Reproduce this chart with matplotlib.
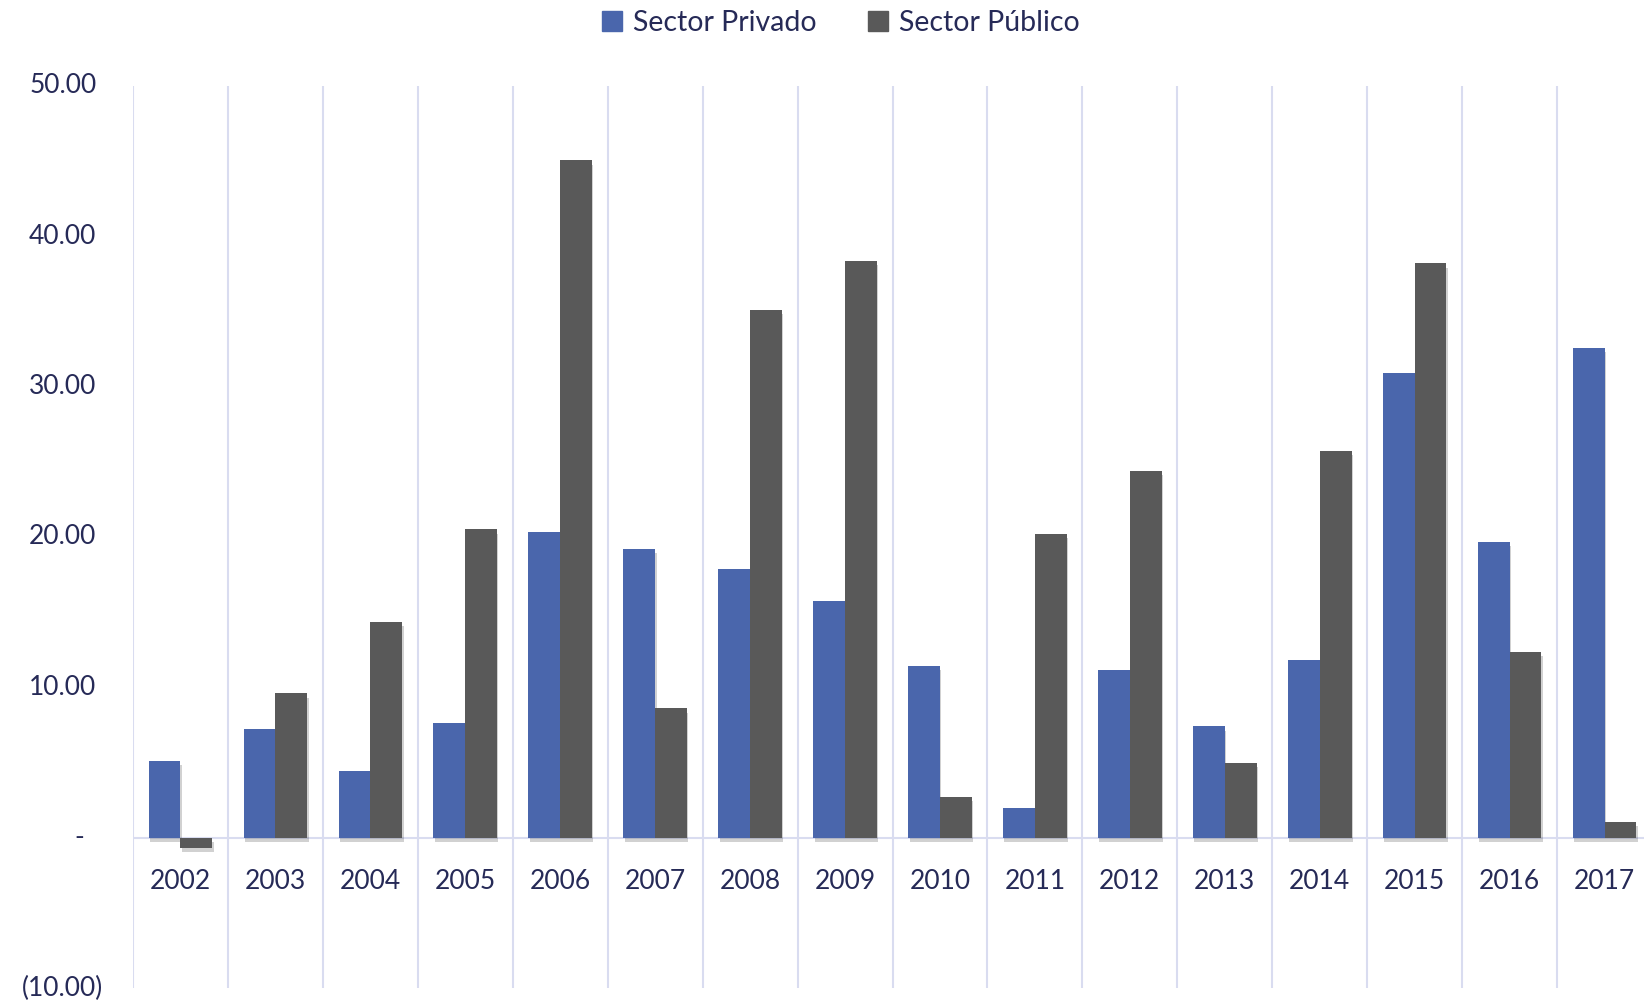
import matplotlib
matplotlib.use("Agg")
import matplotlib.pyplot as plt
import matplotlib.patheffects as pe
import matplotlib.transforms as mtransforms
from matplotlib.patches import Patch
import numpy as np

plt.rcParams['font.family'] = ['Lato', 'DejaVu Sans']

years = ["2002", "2003", "2004", "2005", "2006", "2007", "2008", "2009",
         "2010", "2011", "2012", "2013", "2014", "2015", "2016", "2017"]
privado = [5.1, 7.25, 4.45, 7.6, 20.35, 19.2, 17.9, 15.75, 11.45, 1.95,
           11.15, 7.4, 11.85, 30.9, 19.7, 32.55]
publico = [-0.7, 9.6, 14.35, 20.5, 45.05, 8.6, 35.1, 38.35, 2.7, 20.2,
           24.4, 4.95, 25.75, 38.2, 12.35, 1.05]
ytick_vals = [-10, 0, 10, 20, 30, 40, 50]
ytick_labels = ["(10.00)", "-", "10.00", "20.00", "30.00", "40.00", "50.00"]
series_names = ["Sector Privado", "Sector Público"]

c_priv = "#4a66ac"
c_pub = "#595959"
txt = "#262a57"
grid_c = "#d9dcf0"

W, H = 1644, 1002
fig = plt.figure(figsize=(W / 100, H / 100), dpi=100)
ax = fig.add_axes([133 / W, 1 - 988 / H, (1652 - 133) / W, (988 - 86) / H])

x = np.arange(len(years))
bw = 0.335
shadow = [pe.SimplePatchShadow(offset=(1, -3), shadow_rgbFace="k", alpha=0.18), pe.Normal()]
b1 = ax.bar(x - bw / 2, privado, bw, color=c_priv, zorder=3)
b2 = ax.bar(x + bw / 2, publico, bw, color=c_pub, zorder=3)
for b in list(b1) + list(b2):
    b.set_path_effects(shadow)

ax.set_xlim(-0.5, len(years) - 0.5)
ax.set_ylim(-10, 50)
for s in ax.spines.values():
    s.set_visible(False)
ax.set_xticks([])
ax.set_yticks([])

# vertical category separators
for b in np.arange(-0.5, len(years) - 0.5, 1.0):
    ax.axvline(b, color=grid_c, lw=1.5, zorder=1)
ax.axhline(0, color=grid_c, lw=1.5, zorder=2)

# category labels near zero line
for xi, lab in zip(x, years):
    ax.text(xi, -2.9, lab, ha="center", va="center", fontsize=19, color=txt)

# y labels
trans = mtransforms.blended_transform_factory(fig.transFigure, ax.transData)
for v, lab in zip(ytick_vals, ytick_labels):
    if lab == "-":
        ax.text(79 / W, v, lab, ha="center", va="center", fontsize=19, color=txt, transform=trans)
    elif lab.startswith("("):
        ax.text(103 / W, v, lab, ha="right", va="center", fontsize=19, color=txt, transform=trans)
    else:
        ax.text(96.5 / W, v, lab, ha="right", va="center", fontsize=19, color=txt, transform=trans)

handles = [Patch(color=c_priv), Patch(color=c_pub)]
fig.legend(handles, series_names, loc="center", bbox_to_anchor=(841 / W, 1 - 23 / H),
           ncol=2, frameon=False, fontsize=20.5, labelcolor=txt,
           handlelength=0.7, handleheight=0.7, handletextpad=0.4, columnspacing=1.8)

fig.savefig("out.png", dpi=100)
